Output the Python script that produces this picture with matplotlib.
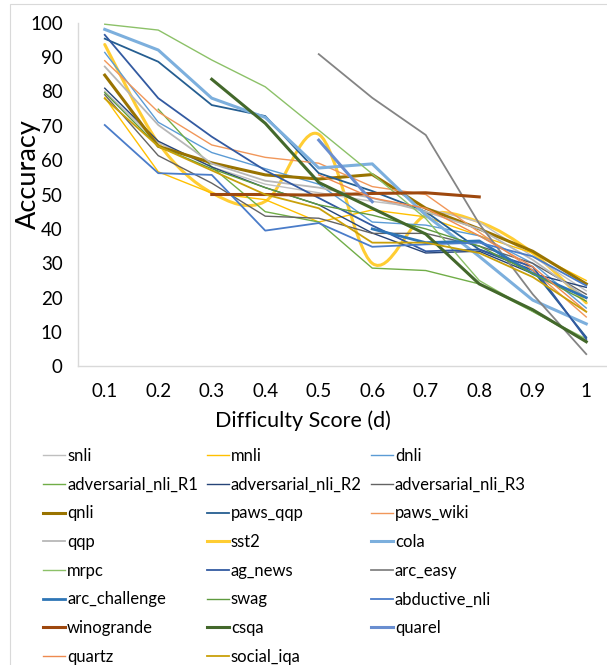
import numpy as np
import matplotlib
matplotlib.use("Agg")
import matplotlib.pyplot as plt
from matplotlib.path import Path
from matplotlib.patches import PathPatch, Rectangle
from matplotlib.lines import Line2D

nan = np.nan
difficulty = ['0.1', '0.2', '0.3', '0.4', '0.5', '0.6', '0.7', '0.8', '0.9', '1']

snli = [80.0, 65.0, 58.0, 53.0, 50.5, 48.0, 46.0, 42.0, 32.0, 22.0]
mnli = [78.2, 56.6, 50.4, 48.5, 42.0, 45.5, 43.5, 38.0, 33.0, 25.0]
dnli = [91.3, 71.0, 62.2, 57.5, 53.0, 42.0, 41.1, 38.0, 30.0, 17.0]
adversarial_nli_R1 = [nan, 74.8, 58.0, 45.0, 42.0, 28.6, 27.9, 24.0, 16.0, 7.5]
adversarial_nli_R2 = [80.9, 65.5, 58.0, 52.0, 47.0, 38.8, 33.0, 33.5, 27.0, 23.0]
adversarial_nli_R3 = [79.0, 61.3, 53.3, 43.7, 43.1, 38.7, 38.7, 35.0, 30.0, 21.0]
qnli = [84.7, 64.0, 59.2, 55.7, 54.5, 55.8, 46.0, 40.0, 33.5, 24.0]
paws_qqp = [95.3, 88.6, 76.0, 72.8, 56.2, 51.0, 45.0, 34.0, 28.0, 8.5]
paws_wiki = [88.9, 74.0, 64.4, 60.8, 59.1, 52.3, 50.0, 39.0, 28.0, 14.4]
qqp = [87.2, 70.2, 59.0, 54.0, 52.0, 49.0, 45.0, 40.0, 31.0, 20.0]
sst2 = [93.6, 65.0, 50.5, 48.0, 67.5, 30.0, 44.0, 42.0, 33.0, 18.5]
cola = [98.0, 92.0, 78.0, 72.4, 57.7, 58.9, 44.0, 32.0, 19.3, 12.4]
mrpc = [99.5, 97.8, 89.1, 81.3, 68.7, 56.0, 43.0, 25.0, 16.0, 8.0]
ag_news = [96.4, 78.0, 66.8, 57.0, 49.0, 41.0, 33.5, 34.0, 29.0, 8.0]
arc_easy = [nan, nan, nan, nan, 90.8, 78.1, 67.3, 41.5, 21.0, 3.6]
arc_challenge = [nan, nan, nan, nan, nan, 40.0, 36.0, 36.5, 27.0, 20.0]
swag = [79.6, 64.0, 57.5, 52.0, 47.0, 44.0, 40.0, 35.0, 27.0, 19.0]
abductive_nli = [70.2, 56.2, 55.7, 39.5, 41.7, 34.8, 35.5, 36.0, 32.0, 23.5]
winogrande = [nan, nan, 50.0, 50.0, 49.8, 50.3, 50.5, 49.3, nan, nan]
csqa = [nan, nan, 83.5, 70.7, 53.5, 46.0, 38.5, 24.0, 16.5, 7.2]
quarel = [nan, nan, nan, nan, 65.8, 47.9, nan, nan, nan, nan]
quartz = [nan, nan, nan, nan, 55.7, 49.0, 46.0, 38.0, 29.0, 16.0]
social_iqa = [77.9, 64.0, 57.0, 50.0, 46.0, 36.0, 36.0, 33.0, 26.0, 15.9]

series = [
    ('snli', snli, '#BFBFBF', 1.0, False),
    ('mnli', mnli, '#FFC000', 1.0, False),
    ('dnli', dnli, '#5B9BD5', 1.0, False),
    ('adversarial_nli_R1', adversarial_nli_R1, '#70AD47', 1.0, False),
    ('adversarial_nli_R2', adversarial_nli_R2, '#264478', 1.0, False),
    ('adversarial_nli_R3', adversarial_nli_R3, '#636363', 1.0, False),
    ('qnli', qnli, '#997300', 2.2, False),
    ('paws_qqp', paws_qqp, '#255E91', 1.3, False),
    ('paws_wiki', paws_wiki, '#F1975A', 1.0, False),
    ('qqp', qqp, '#B7B7B7', 1.3, False),
    ('sst2', sst2, '#FFCD33', 2.2, True),
    ('cola', cola, '#7CAFDD', 2.2, False),
    ('mrpc', mrpc, '#8CC168', 1.0, False),
    ('ag_news', ag_news, '#335AA1', 1.3, False),
    ('arc_easy', arc_easy, '#848484', 1.3, False),
    ('arc_challenge', arc_challenge, '#2E75B6', 2.0, False),
    ('swag', swag, '#5E9A3E', 1.0, False),
    ('abductive_nli', abductive_nli, '#4A7CC9', 1.3, False),
    ('winogrande', winogrande, '#9E480E', 2.2, False),
    ('csqa', csqa, '#43682B', 2.2, False),
    ('quarel', quarel, '#698ED0', 2.2, False),
    ('quartz', quartz, '#EE8A50', 1.0, False),
    ('social_iqa', social_iqa, '#C9A00A', 1.3, False),
]

plt.rcParams['font.family'] = ['Lato', 'DejaVu Sans']

W, H = 607, 665
fig = plt.figure(figsize=(W / 100, H / 100), dpi=100)
fig.patch.set_facecolor('white')

# outer chart border
fig.patches.append(Rectangle((10 / W, -0.1), 1.2, 1.1 - 4 / H, transform=fig.transFigure,
                             fill=False, edgecolor='#D9D9D9', linewidth=0.8))

ax_left, ax_right = 78, 607
ax_top, ax_bottom = 22.5, 366.5
ax = fig.add_axes([ax_left / W, 1 - ax_bottom / H, (ax_right - ax_left) / W, (ax_bottom - ax_top) / H])
step = 53.5
ax.set_xlim(-0.5, -0.5 + (ax_right - ax_left) / step)
ax.set_ylim(0, 100)

x = np.arange(len(difficulty))


def smooth_path(xs, ys):
    pts = [(a, b) for a, b in zip(xs, ys) if not np.isnan(b)]
    verts = [pts[0]]
    codes = [Path.MOVETO]
    n = len(pts)
    for i in range(n - 1):
        p0 = pts[i - 1] if i > 0 else pts[i]
        p1 = pts[i]
        p2 = pts[i + 1]
        p3 = pts[i + 2] if i + 2 < n else pts[i + 1]
        c1 = (p1[0] + (p2[0] - p0[0]) / 6, p1[1] + (p2[1] - p0[1]) / 6)
        c2 = (p2[0] - (p3[0] - p1[0]) / 6, p2[1] - (p3[1] - p1[1]) / 6)
        verts += [c1, c2, p2]
        codes += [Path.CURVE4] * 3
    return Path(verts, codes)


handles = []
for name, vals, color, lw, smooth in series:
    y = np.array(vals, dtype=float)
    if smooth:
        patch = PathPatch(smooth_path(x, y), facecolor='none', edgecolor=color, linewidth=lw,
                          capstyle='round', joinstyle='round')
        ax.add_patch(patch)
        h = Line2D([], [], color=color, linewidth=lw)
    else:
        h, = ax.plot(x, y, color=color, linewidth=lw, solid_joinstyle='round')
    h.set_label(name)
    handles.append(h)

ax.set_xticks(x)
ax.set_xticklabels(difficulty)
ax.set_yticks(np.arange(0, 101, 10))
ax.tick_params(axis='y', labelsize=13.5, length=0, pad=11)
ax.tick_params(axis='x', labelsize=13.5, length=0, pad=12)
for s in ['top', 'right']:
    ax.spines[s].set_visible(False)
for s in ['left', 'bottom']:
    ax.spines[s].set_color('#D9D9D9')
    ax.spines[s].set_linewidth(1.0)

fig.text(28 / W, 1 - 174 / H, 'Accuracy', rotation=90, ha='center', va='center', fontsize=19.5)
fig.text(303 / W, 1 - 421 / H, 'Difficulty Score (d)', ha='center', va='center', fontsize=15.5)

order = [i for c in range(3) for i in range(c, len(handles), 3)]
leg = fig.legend([handles[i] for i in order], [series[i][0] for i in order],
                 ncol=3, loc='upper left', bbox_to_anchor=(43 / W, 1 - 448 / H),
                 frameon=False, fontsize=12, handlelength=1.32, handletextpad=0.12,
                 columnspacing=0.54, labelspacing=0.76, borderaxespad=0, borderpad=0)

fig.savefig('out.png', dpi=100, facecolor='white')
